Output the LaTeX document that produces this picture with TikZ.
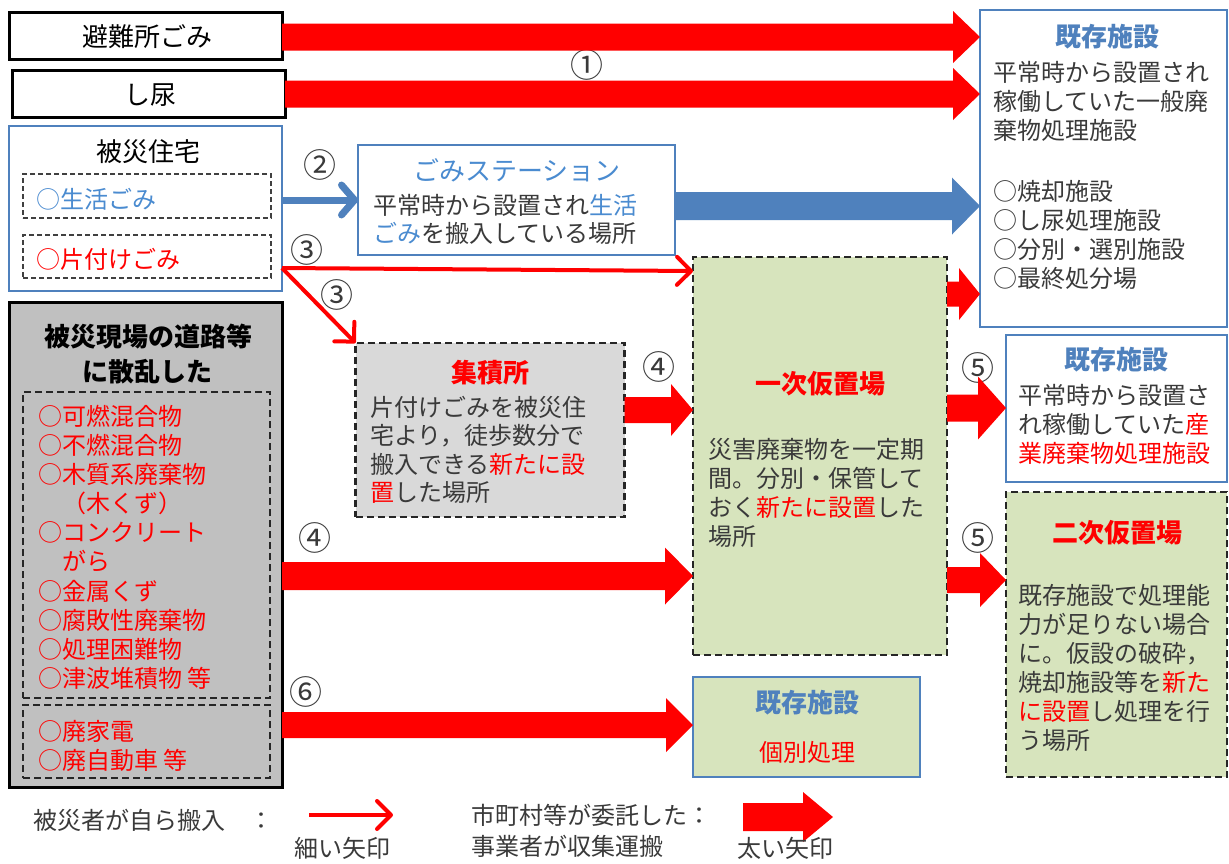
\documentclass[tikz,border=0pt]{standalone}
\usepackage{fontspec}
\setmainfont{Noto Sans CJK JP}
\usetikzlibrary{arrows.meta,calc}
\definecolor{myred}{HTML}{FF0000}
\definecolor{bord}{HTML}{4F81BD}
\definecolor{blueT}{HTML}{4A8BD0}
\definecolor{blueH}{HTML}{4F81BD}
\definecolor{txt}{HTML}{3A3A3A}
\definecolor{grayA}{HTML}{C0C0C0}
\definecolor{grayB}{HTML}{D9D9D9}
\definecolor{greenA}{HTML}{D7E4BD}
% from, to, y(px), colour, head length, head half-width, shaft half-width
\newcommand\fatarrow[7]{%
 \fill[#4] let \p1=(#1),\p2=(#2),\p3=(0,#3) in
 (\x1,\y3+#7) -- (\x2-#5,\y3+#7) -- (\x2-#5,\y3+#6) -- (\x2,\y3)
 -- (\x2-#5,\y3-#6) -- (\x2-#5,\y3-#7) -- (\x1,\y3-#7) -- cycle;}
\begin{document}
\begin{tikzpicture}[x=1pt,y=-1pt,
 box/.style={draw, inner sep=0pt, outer sep=0pt},
 blackbox/.style={box, draw=black, line width=3pt, fill=white},
 bluebox/.style={box, draw=bord, line width=2.5pt, fill=white},
 dbox/.style={box, draw=black!85, line width=2.5pt, dash pattern=on 7pt off 4pt},
 idash/.style={box, draw=black!75, line width=2.5pt, dash pattern=on 5pt off 3pt},
 body/.style={font=\fontsize{24}{29}\selectfont, text=txt, inner sep=0pt, align=left, anchor=north west},
 ttl/.style={font=\fontsize{26}{30}\selectfont, inner sep=0pt},
 num/.style={font=\fontsize{33}{34}\selectfont, text=txt, inner sep=0pt},
 thinarr/.style={draw=myred, line width=4pt, -{Straight Barb[length=14pt,width=28pt,round]}},
 bluearr/.style={draw=bord, line width=7pt, -{Straight Barb[length=13pt,width=30pt,round]}}
]
\useasboundingbox[fill=white] (0,0) rectangle (1229,863);

% ---------- boxes ----------
\node[blackbox, minimum width=273pt, minimum height=47pt] (hinan) at (145.5,35.5) {};
\node[blackbox, minimum width=273pt, minimum height=47pt] (shinyo) at (148.5,93.5) {};
\node[bluebox, minimum width=273pt, minimum height=165pt] (jutaku) at (145.5,208.5) {};
\node[idash, minimum width=248pt, minimum height=44pt] (seikatsu) at (147,196) {};
\node[idash, minimum width=248pt, minimum height=43pt] (katazuke) at (147,256.5) {};
\node[bluebox, minimum width=317pt, minimum height=110pt] (station) at (516.5,200) {};
\node[bluebox, minimum width=247pt, minimum height=317pt] (kizon1) at (1103.5,168.5) {};
\node[dbox, fill=grayB, minimum width=269pt, minimum height=174pt] (shuseki) at (490,430) {};
\node[dbox, fill=greenA, minimum width=254pt, minimum height=398pt] (ichiji) at (820,456) {};
\node[bluebox, minimum width=221pt, minimum height=147pt] (kizon2) at (1116.5,408.5) {};
\node[dbox, fill=greenA, minimum width=221pt, minimum height=285pt] (niji) at (1116.5,634.5) {};
\node[box, draw=black, line width=3pt, fill=grayA, minimum width=273pt, minimum height=485pt] (genba) at (145.5,544.5) {};
\node[dbox, minimum width=247pt, minimum height=306pt] (genbaA) at (146.5,545) {};
\node[dbox, minimum width=247pt, minimum height=73pt] (genbaB) at (146.5,741.5) {};
\node[box, draw=bord, line width=2.5pt, fill=greenA, minimum width=227pt, minimum height=100pt] (kizon3) at (806.5,727) {};

% ---------- texts ----------
\node[ttl, text=black] (t-hinan) at (147,37) {避難所ごみ};
\node[ttl, text=black] (t-shinyo) at (150,95) {し尿};
\node[ttl, text=black] (t-jutaku) at (148,152) {被災住宅};
\node[body, anchor=west, text=blueT] (t-seikatsu) at (36,199) {○生活ごみ};
\node[body, anchor=west, text=myred] (t-katazuke) at (36,259) {○片付けごみ};

\node[ttl, text=blueT] (t-station) at (517,170) {ごみステーション};
\node[body, font=\fontsize{24}{28}\selectfont] (b-station) at (373,194) {平常時から設置され{\color{blueT}生活}\\{\color{blueT}ごみ}を搬入している場所};

\node[ttl, text=blueH, font=\bfseries\fontsize{26}{30}\selectfont] (t-kizon1) at (1107,37) {既存施設};
\node[body] (b-kizon1) at (993,61) {平常時から設置され\\稼働していた一般廃\\棄物処理施設};
\node[body] (l-kizon1) at (993,180) {○焼却施設\\○し尿処理施設\\○分別・選別施設\\○最終処分場};

\node[ttl, text=myred, font=\bfseries\fontsize{26}{30}\selectfont] (t-shuseki) at (490,373) {集積所};
\node[body, font=\fontsize{24}{28.5}\selectfont] (b-shuseki) at (370,396) {片付けごみを被災住\\宅より，徒歩数分で\\搬入できる{\color{myred}新たに設}\\{\color{myred}置}した場所};

\node[ttl, text=myred, font=\bfseries\fontsize{26}{30}\selectfont] (t-ichiji) at (820,384) {一次仮置場};
\node[body] (b-ichiji) at (708,438) {災害廃棄物を一定期\\間。分別・保管して\\おく{\color{myred}新たに設置}した\\場所};

\node[ttl, text=blueH, font=\bfseries\fontsize{26}{30}\selectfont] (t-kizon2) at (1116,360) {既存施設};
\node[body] (b-kizon2) at (1018,384) {平常時から設置さ\\れ稼働していた{\color{myred}産}\\{\color{myred}業廃棄物処理施設}};

\node[ttl, text=myred, font=\bfseries\fontsize{26}{30}\selectfont] (t-niji) at (1117,533) {二次仮置場};
\node[body] (b-niji) at (1018,584) {既存施設で処理能\\力が足りない場合\\に。仮設の破砕，\\焼却施設等を{\color{myred}新た}\\{\color{myred}に設置}し処理を行\\う場所};

\node[ttl, text=black, font=\bfseries\fontsize{26}{35}\selectfont, align=center, anchor=north] (t-genba) at (148,324) {被災現場の道路等\\に散乱した};
\node[body, text=myred, font=\fontsize{24}{29.1}\selectfont] (b-genbaA) at (38,405) {○可燃混合物\\○不燃混合物\\○木質系廃棄物\\　（木くず）\\○コンクリート\\　がら\\○金属くず\\○腐敗性廃棄物\\○処理困難物\\○津波堆積物 等};
\node[body, text=myred] (b-genbaB) at (38,720) {○廃家電\\○廃自動車 等};

\node[ttl, text=blueH, font=\bfseries\fontsize{26}{30}\selectfont] (t-kizon3) at (807,703) {既存施設};
\node[ttl, text=myred, font=\fontsize{24}{28}\selectfont] (t-kobetsu) at (807,752) {個別処理};

% ---------- numbers ----------
\node[num] (n1) at (587,65) {①};
\node[num] (n2) at (320,165) {②};
\node[num] (n3a) at (307,250) {③};
\node[num] (n3b) at (337,295) {③};
\node[num] (n4a) at (659,367) {④};
\node[num] (n4b) at (315,538) {④};
\node[num] (n5a) at (978,368) {⑤};
\node[num] (n5b) at (978,538) {⑤};
\node[num] (n6) at (306,692) {⑥};

% ---------- fat arrows ----------
\fatarrow{hinan.east}{kizon1.west}{37}{myred}{27pt}{26pt}{13.5pt}
\fatarrow{shinyo.east}{kizon1.west}{94}{myred}{27pt}{26pt}{13.5pt}
\fatarrow{station.east}{kizon1.west}{206}{bord}{28pt}{28.5pt}{14pt}
\fatarrow{ichiji.east}{kizon1.west}{294}{myred}{21pt}{26pt}{12.5pt}
\fatarrow{shuseki.east}{ichiji.west}{410}{myred}{22pt}{26pt}{13pt}
\fatarrow{ichiji.east}{kizon2.west}{408}{myred}{28pt}{31.5pt}{13.5pt}
\fatarrow{ichiji.east}{niji.west}{580}{myred}{26pt}{27pt}{13pt}
\fatarrow{genba.east}{ichiji.west}{576}{myred}{28pt}{28.5pt}{14pt}
\fatarrow{genba.east}{kizon3.west}{725}{myred}{27pt}{27pt}{13pt}

% ---------- thin arrows ----------
\coordinate (k3) at (282,268);
\draw[thinarr] (k3) -- ([yshift=-14pt]ichiji.north west);
\draw[thinarr] (k3) -- (shuseki.north west);
\draw[bluearr] (jutaku.east |- station.west) -- (station.west);

% ---------- legend ----------
\node[body, anchor=west] (lg-t1) at (33,820) {被災者が自ら搬入　：};
\coordinate (lg1a) at (309,815);
\coordinate (lg1b) at (393,815);
\draw[thinarr] (lg1a) -- (lg1b);
\node[body, anchor=center] (lg-t2) at (342,848) {細い矢印};
\node[body, anchor=center, text=txt] (lg-t3) at (591,815) {市町村等が委託した：};
\node[body, anchor=west] (lg-t4) at (471,846) {事業者が収集運搬};
\coordinate (lg2a) at (743,817);
\coordinate (lg2b) at (833,817);
\fatarrow{lg2a}{lg2b}{817}{myred}{30pt}{25pt}{14pt}
\node[body, anchor=center] (lg-t5) at (785,848) {太い矢印};
\end{tikzpicture}
\end{document}
